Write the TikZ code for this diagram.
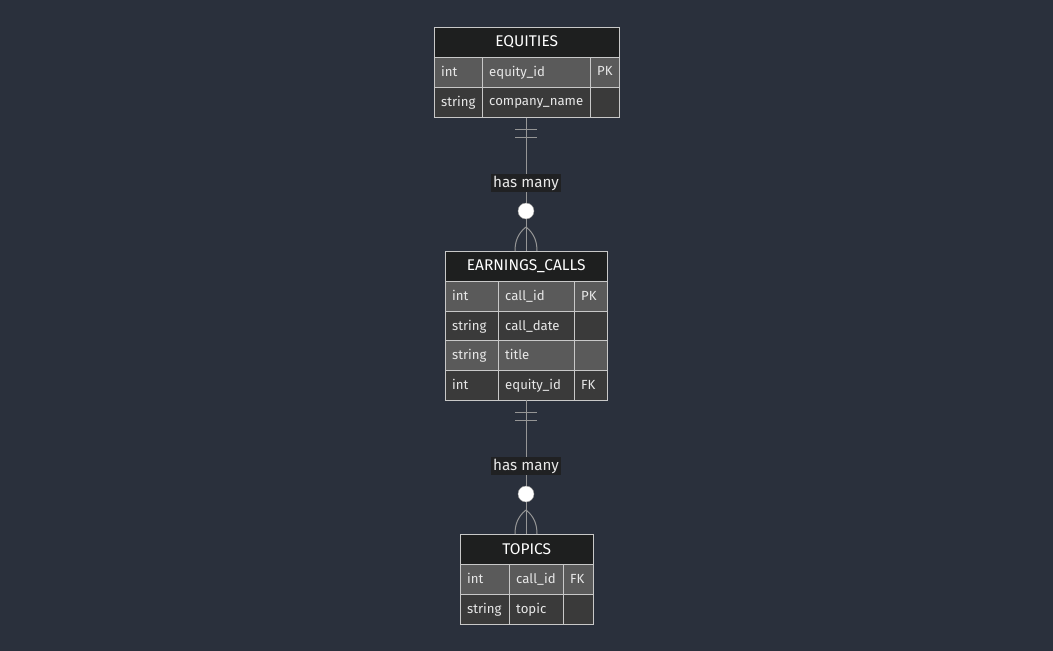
\documentclass[tikz,border=0pt]{standalone}
\usepackage{fontspec}
\setmainfont{Fira Sans}
\definecolor{bgcol}{RGB}{42,48,60}
\definecolor{hdrfill}{RGB}{30,31,31}
\definecolor{rowlight}{RGB}{90,90,90}
\definecolor{rowdark}{RGB}{58,58,58}
\definecolor{cellline}{RGB}{200,200,200}
\definecolor{celltext}{RGB}{232,232,232}
\definecolor{relline}{RGB}{150,150,150}
\definecolor{labelfill}{RGB}{32,33,35}

\begin{document}
\begin{tikzpicture}[x=1pt,y=-1pt,
    hdr/.style={draw=cellline, fill=hdrfill, text=white, anchor=north west,
      minimum height=30pt, inner sep=0pt, font=\fontsize{15.5}{17}\selectfont},
    cell/.style={draw=cellline, anchor=north west, minimum height=29.5pt,
      inner ysep=0pt, inner xsep=7pt, align=left, text=celltext,
      text depth=1pt, font=\fontsize{13.2}{15}\selectfont},
    lightrow/.style={cell, fill=rowlight},
    darkrow/.style={cell, fill=rowdark},
    rel/.style={draw=relline, line width=1pt},
    rellabel/.style={fill=labelfill, text=celltext, inner xsep=2pt, inner ysep=1pt,
      minimum height=18pt, font=\fontsize{15.2}{17}\selectfont},
    zero/.style={circle, draw=relline, fill=white, minimum size=16pt, inner sep=0pt}]

    % Background
    \fill[bgcol] (0,0) rectangle (1053,651);

    % EQUITIES
    \node[hdr, minimum width=185pt] (eqhdr) at (434,27) {EQUITIES};
    \node[lightrow, text width=34pt] (eqa1) at (434,57) {int};
    \node[lightrow, text width=94pt] (eqa2) at (482,57) {equity\_id};
    \node[lightrow, text width=15pt] (eqa3) at (590,57) {PK};
    \node[darkrow, text width=34pt] (eqb1) at (434,87) {string};
    \node[darkrow, text width=94pt] (eqb2) at (482,87) {company\_name};
    \node[darkrow, text width=15pt] (eqb3) at (590,87) {};

    % EARNINGS_CALLS
    \node[hdr, minimum width=162pt] (echdr) at (445,251) {EARNINGS\_CALLS};
    \node[lightrow, text width=39pt] (eca1) at (445,281) {int};
    \node[lightrow, text width=62pt] (eca2) at (498,281) {call\_id};
    \node[lightrow, text width=19pt] (eca3) at (574,281) {PK};
    \node[darkrow, text width=39pt] (ecb1) at (445,311) {string};
    \node[darkrow, text width=62pt] (ecb2) at (498,311) {call\_date};
    \node[darkrow, text width=19pt] (ecb3) at (574,311) {};
    \node[lightrow, text width=39pt] (ecc1) at (445,340) {string};
    \node[lightrow, text width=62pt] (ecc2) at (498,340) {title};
    \node[lightrow, text width=19pt] (ecc3) at (574,340) {};
    \node[darkrow, text width=39pt] (ecd1) at (445,370) {int};
    \node[darkrow, text width=62pt] (ecd2) at (498,370) {equity\_id};
    \node[darkrow, text width=19pt] (ecd3) at (574,370) {FK};

    % TOPICS
    \node[hdr, minimum width=133pt] (tphdr) at (460,534) {TOPICS};
    \node[lightrow, text width=35pt] (tpa1) at (460,564) {int};
    \node[lightrow, text width=40pt] (tpa2) at (509,564) {call\_id};
    \node[lightrow, text width=16pt] (tpa3) at (563,564) {FK};
    \node[darkrow, text width=35pt] (tpb1) at (460,594) {string};
    \node[darkrow, text width=40pt] (tpb2) at (509,594) {topic};
    \node[darkrow, text width=16pt] (tpb3) at (563,594) {};

    % Relation ends
    \coordinate (eqbot) at (526,118);
    \coordinate (ectop) at (526,251);
    \coordinate (ecbot) at (526,400);
    \coordinate (tptop) at (526,534);

    % EQUITIES has many EARNINGS_CALLS
    \draw[rel] (eqbot) -- (ectop);
    \draw[rel] (515,129) -- (537,129);
    \draw[rel] (515,137) -- (537,137);
    \draw[rel] (526,227) .. controls (517,234) and (515,243) .. (515,251);
    \draw[rel] (526,227) .. controls (535,234) and (537,243) .. (537,251);
    \node[rellabel] (lab1) at (526,183) {has many};
    \node[zero] (zero1) at (526,211) {};

    % EARNINGS_CALLS has many TOPICS
    \draw[rel] (ecbot) -- (tptop);
    \draw[rel] (515,412) -- (537,412);
    \draw[rel] (515,420) -- (537,420);
    \draw[rel] (526,510) .. controls (517,517) and (515,526) .. (515,534);
    \draw[rel] (526,510) .. controls (535,517) and (537,526) .. (537,534);
    \node[rellabel] (lab2) at (526,466) {has many};
    \node[zero] (zero2) at (526,494) {};
\end{tikzpicture}
\end{document}
